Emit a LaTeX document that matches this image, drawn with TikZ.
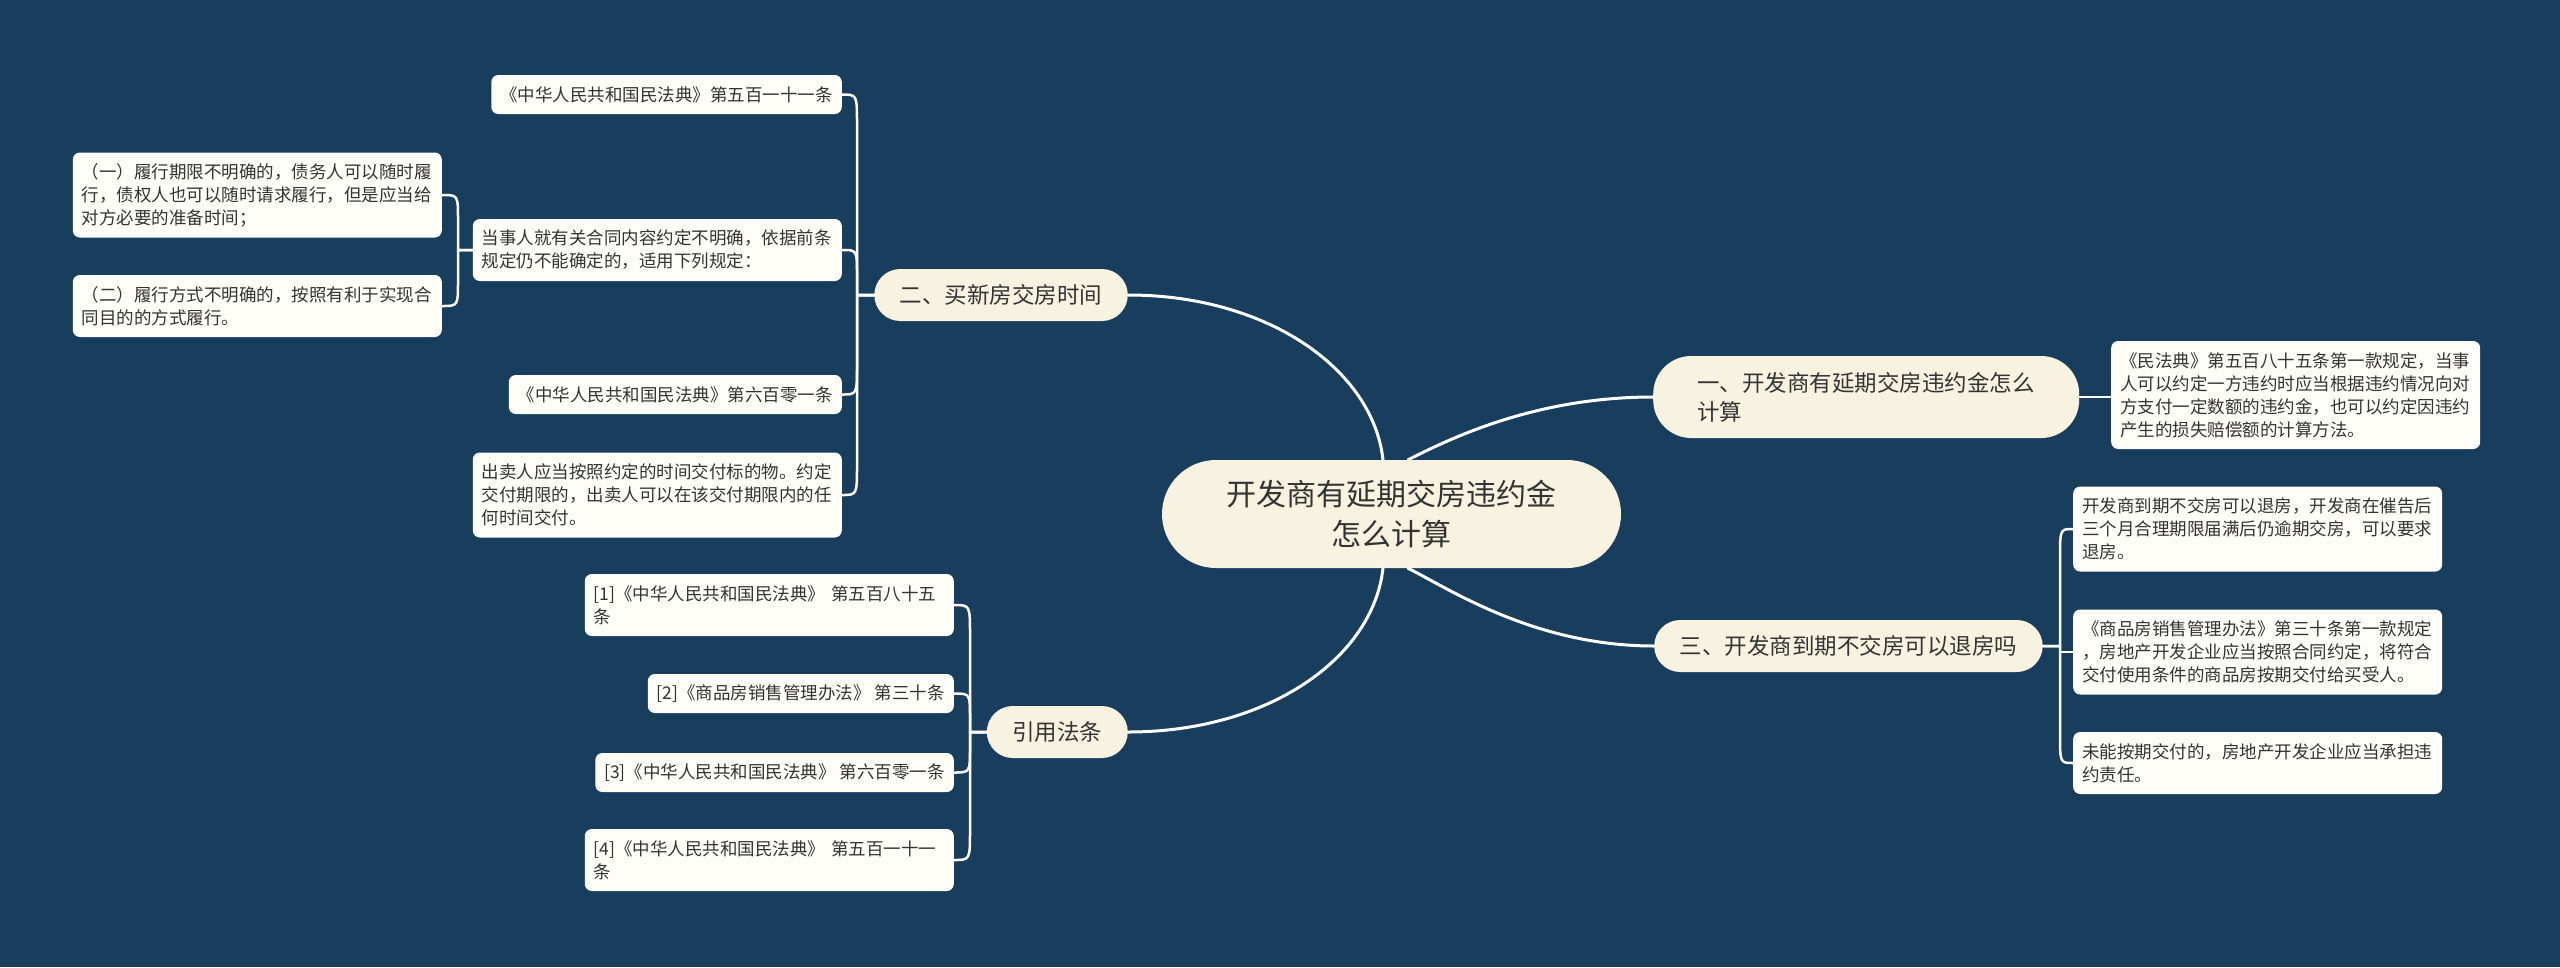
\documentclass[tikz,border=0pt]{standalone}
\usepackage{fontspec}
\newfontfamily\cjk{Noto Sans CJK SC}
\usetikzlibrary{calc}
\definecolor{bg}{RGB}{24,61,93}
\definecolor{brfill}{RGB}{248,243,224}
\definecolor{lffill}{RGB}{254,253,247}
\definecolor{txt}{RGB}{51,51,51}
\tikzset{
  leaf/.style={fill=lffill, rounded corners=7pt, text=txt,
    font=\cjk\fontsize{17.5}{23}\selectfont, inner xsep=9pt, inner ysep=0pt,
    minimum height=39pt, align=left},
  wleaf/.style={leaf, text width=351pt},
  branch/.style={fill=brfill, text=txt, font=\cjk\fontsize{22.5}{29}\selectfont,
    inner xsep=25.5pt, inner ysep=0pt, minimum height=52pt, rounded corners=26pt},
  rootnode/.style={fill=brfill, text=txt, font=\cjk\fontsize{30}{40}\selectfont,
    inner sep=0pt, minimum width=459pt, minimum height=108pt, text width=331pt,
    align=center, rounded corners=54pt},
  mainline/.style={draw=white, line width=3pt, line cap=round},
  lkline/.style={draw=white, line width=2.5pt, line cap=round, line join=round},
}
\newcommand\lk[4]{\draw[lkline] (#2) .. controls (#2 -| #3) .. ($(#2 -| #3)+(0,#4)$) -- (#3 |- #1) -- (#1);}
\begin{document}
\begin{tikzpicture}[x=1pt,y=-1pt]
\fill[bg] (0,0) rectangle (2560,967);
\useasboundingbox (0,0) rectangle (2560,967);

% root
\node[rootnode] (root) at (1391.5,514) {开发商有延期交房违约金\\怎么计算};

% branches
\node[branch, anchor=east] (b2) at (1128,295) {二、买新房交房时间};
\node[branch, anchor=west, text width=338pt, align=left, inner xsep=44pt,
      minimum height=82pt, rounded corners=38pt] (b1) at (1653,397)
      {一、开发商有延期交房违约金怎么\\计算};
\node[branch, anchor=west] (b3) at (1654,646) {三、开发商到期不交房可以退房吗};
\node[branch, anchor=east] (b4) at (1128,732) {引用法条};

% branch 二 leaves
\node[leaf, anchor=east] (l6) at (842,94.5) {《中华人民共和国民法典》第五百一十一条};
\node[wleaf, anchor=east, minimum height=62pt] (l7) at (842,250)
  {当事人就有关合同内容约定不明确，依据前条\\规定仍不能确定的，适用下列规定：};
\node[leaf, anchor=east] (l8) at (842,394.5) {《中华人民共和国民法典》第六百零一条};
\node[wleaf, anchor=east, minimum height=85pt] (l9) at (842,495)
  {出卖人应当按照约定的时间交付标的物。约定\\交付期限的，出卖人可以在该交付期限内的任\\何时间交付。};
\node[wleaf, anchor=east, minimum height=85pt] (l10) at (442,195)
  {（一）履行期限不明确的，债务人可以随时履\\行，债权人也可以随时请求履行，但是应当给\\对方必要的准备时间；};
\node[wleaf, anchor=east, minimum height=62pt] (l11) at (442,306)
  {（二）履行方式不明确的，按照有利于实现合\\同目的的方式履行。};

% branch 一 leaf
\node[wleaf, anchor=west, minimum height=108pt] (l12) at (2111,395)
  {《民法典》第五百八十五条第一款规定，当事\\人可以约定一方违约时应当根据违约情况向对\\方支付一定数额的违约金，也可以约定因违约\\产生的损失赔偿额的计算方法。};

% branch 三 leaves
\node[wleaf, anchor=west, minimum height=85pt] (l13) at (2073,529)
  {开发商到期不交房可以退房，开发商在催告后\\三个月合理期限届满后仍逾期交房，可以要求\\退房。};
\node[wleaf, anchor=west, minimum height=85pt] (l14) at (2073,652)
  {《商品房销售管理办法》第三十条第一款规定\\，房地产开发企业应当按照合同约定，将符合\\交付使用条件的商品房按期交付给买受人。};
\node[wleaf, anchor=west, minimum height=62pt] (l15) at (2073,763)
  {未能按期交付的，房地产开发企业应当承担违\\约责任。};

% 引用法条 leaves
\node[wleaf, anchor=east, minimum height=62pt] (l16) at (954,605)
  {[1]《中华人民共和国民法典》 第五百八十五\\条};
\node[leaf, anchor=east] (l17) at (954,693.5) {[2]《商品房销售管理办法》 第三十条};
\node[leaf, anchor=east] (l18) at (954,772.5) {[3]《中华人民共和国民法典》 第六百零一条};
\node[wleaf, anchor=east, minimum height=62pt] (l19) at (954,860)
  {[4]《中华人民共和国民法典》 第五百一十一\\条};

% spines
\coordinate (sp2) at (857,0);
\coordinate (sp7) at (458,0);
\coordinate (sp4) at (970,0);
\coordinate (sp3) at (2060,0);

% main curves
\draw[mainline] ($(root.north)+(-8.5,0)$) .. controls +(-10,-90) and +(140,0) .. (b2.east);
\draw[mainline] ($(root.north)+(16.5,0)$) .. controls +(40,-20) and +(-120,0) .. (b1.west);
\draw[mainline] ($(root.south)+(16.5,0)$) .. controls +(40,20) and +(-120,0) .. (b3.west);
\draw[mainline] ($(root.south)+(-8.5,0)$) .. controls +(-10,90) and +(140,0) .. (b4.east);

% leaf connectors
\lk{b2.west}{l6.east}{sp2}{30}
\lk{b2.west}{l7.east}{sp2}{25}
\lk{b2.west}{l8.east}{sp2}{-30}
\lk{b2.west}{l9.east}{sp2}{-30}
\lk{l7.west}{l10.east}{sp7}{25}
\lk{l7.west}{l11.east}{sp7}{-25}
\lk{b4.west}{l16.east}{sp4}{30}
\lk{b4.west}{l17.east}{sp4}{25}
\lk{b4.west}{l18.east}{sp4}{-25}
\lk{b4.west}{l19.east}{sp4}{-30}
\lk{b3.east}{l13.west}{sp3}{30}
\draw[lkline] (b3.east) -- (sp3 |- b3.east) -- (sp3 |- l14.west) -- (l14.west);
\lk{b3.east}{l15.west}{sp3}{-30}
\draw[lkline] (b1.east) -- (b1.east -| l12.west);
\end{tikzpicture}
\end{document}
